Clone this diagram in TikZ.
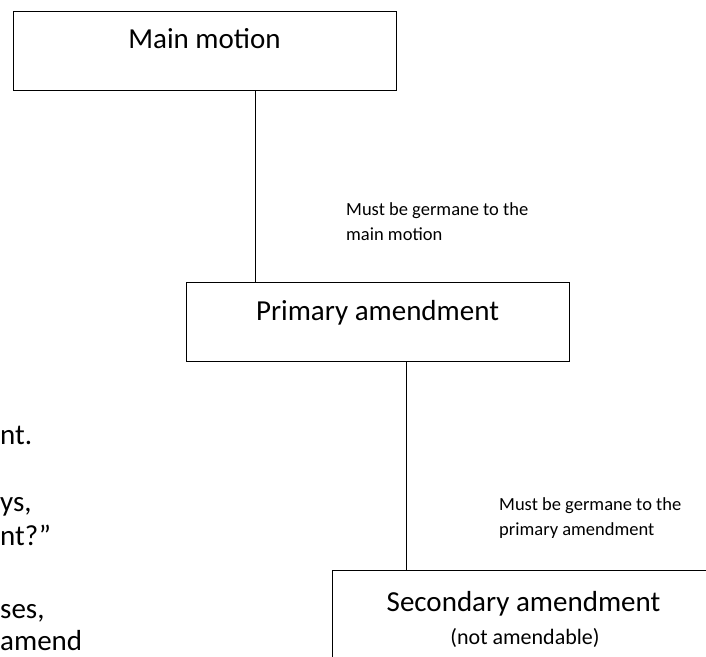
\documentclass[tikz,border=0pt]{standalone}
\usepackage{fontspec}
\setmainfont{Carlito}
\begin{document}
\begin{tikzpicture}[x=1pt,y=-1pt,
  boxnode/.style={draw=black, line width=1.2pt, minimum width=383pt, inner sep=0pt, anchor=north west},
  bigtext/.style={font=\fontsize{29}{35}\selectfont, inner sep=0pt, anchor=base},
  note/.style={font=\fontsize{18.5}{25}\selectfont, inner sep=0pt, align=left, anchor=north west},
  sidetext/.style={font=\fontsize{29}{35}\selectfont, inner sep=0pt, anchor=base west},
  connector/.style={draw=black, line width=1pt}]
\clip (0,0) rectangle (706,656);
% boxes
\node[boxnode, minimum height=79pt] (mm) at (13,11) {};
\node[boxnode, minimum height=79pt] (pa) at (186,282) {};
\node[boxnode, minimum height=110pt] (sa) at (332,570) {};
% box texts
\node[bigtext] (mmt) at (204.5,48) {Main motion};
\node[bigtext] (pat) at (377.5,320) {Primary amendment};
\node[bigtext] (sat) at (523.5,611) {Secondary amendment};
\node[font=\fontsize{22}{26}\selectfont, inner sep=0pt, anchor=base] (sant) at (525,644) {(not amendable)};
% connectors
\draw[connector] ([xshift=50.5pt]mm.south) -- ([xshift=50.5pt]mm.south |- pa.north);
\draw[connector] ([xshift=28.5pt]pa.south) -- ([xshift=28.5pt]pa.south |- sa.north);
% notes
\node[note] (n1) at (346,202) {Must be germane to the\\main motion};
\node[note] (n2) at (499,497) {Must be germane to the\\primary amendment};
% side text fragments
\node[sidetext] (s1) at (0,444) {nt.};
\node[sidetext] (s2) at (0,511) {ys,};
\node[sidetext] (s3) at (0,545) {nt?”};
\node[sidetext] (s4) at (0,618) {ses,};
\node[sidetext] (s5) at (0,650) {amend};
\end{tikzpicture}
\end{document}
